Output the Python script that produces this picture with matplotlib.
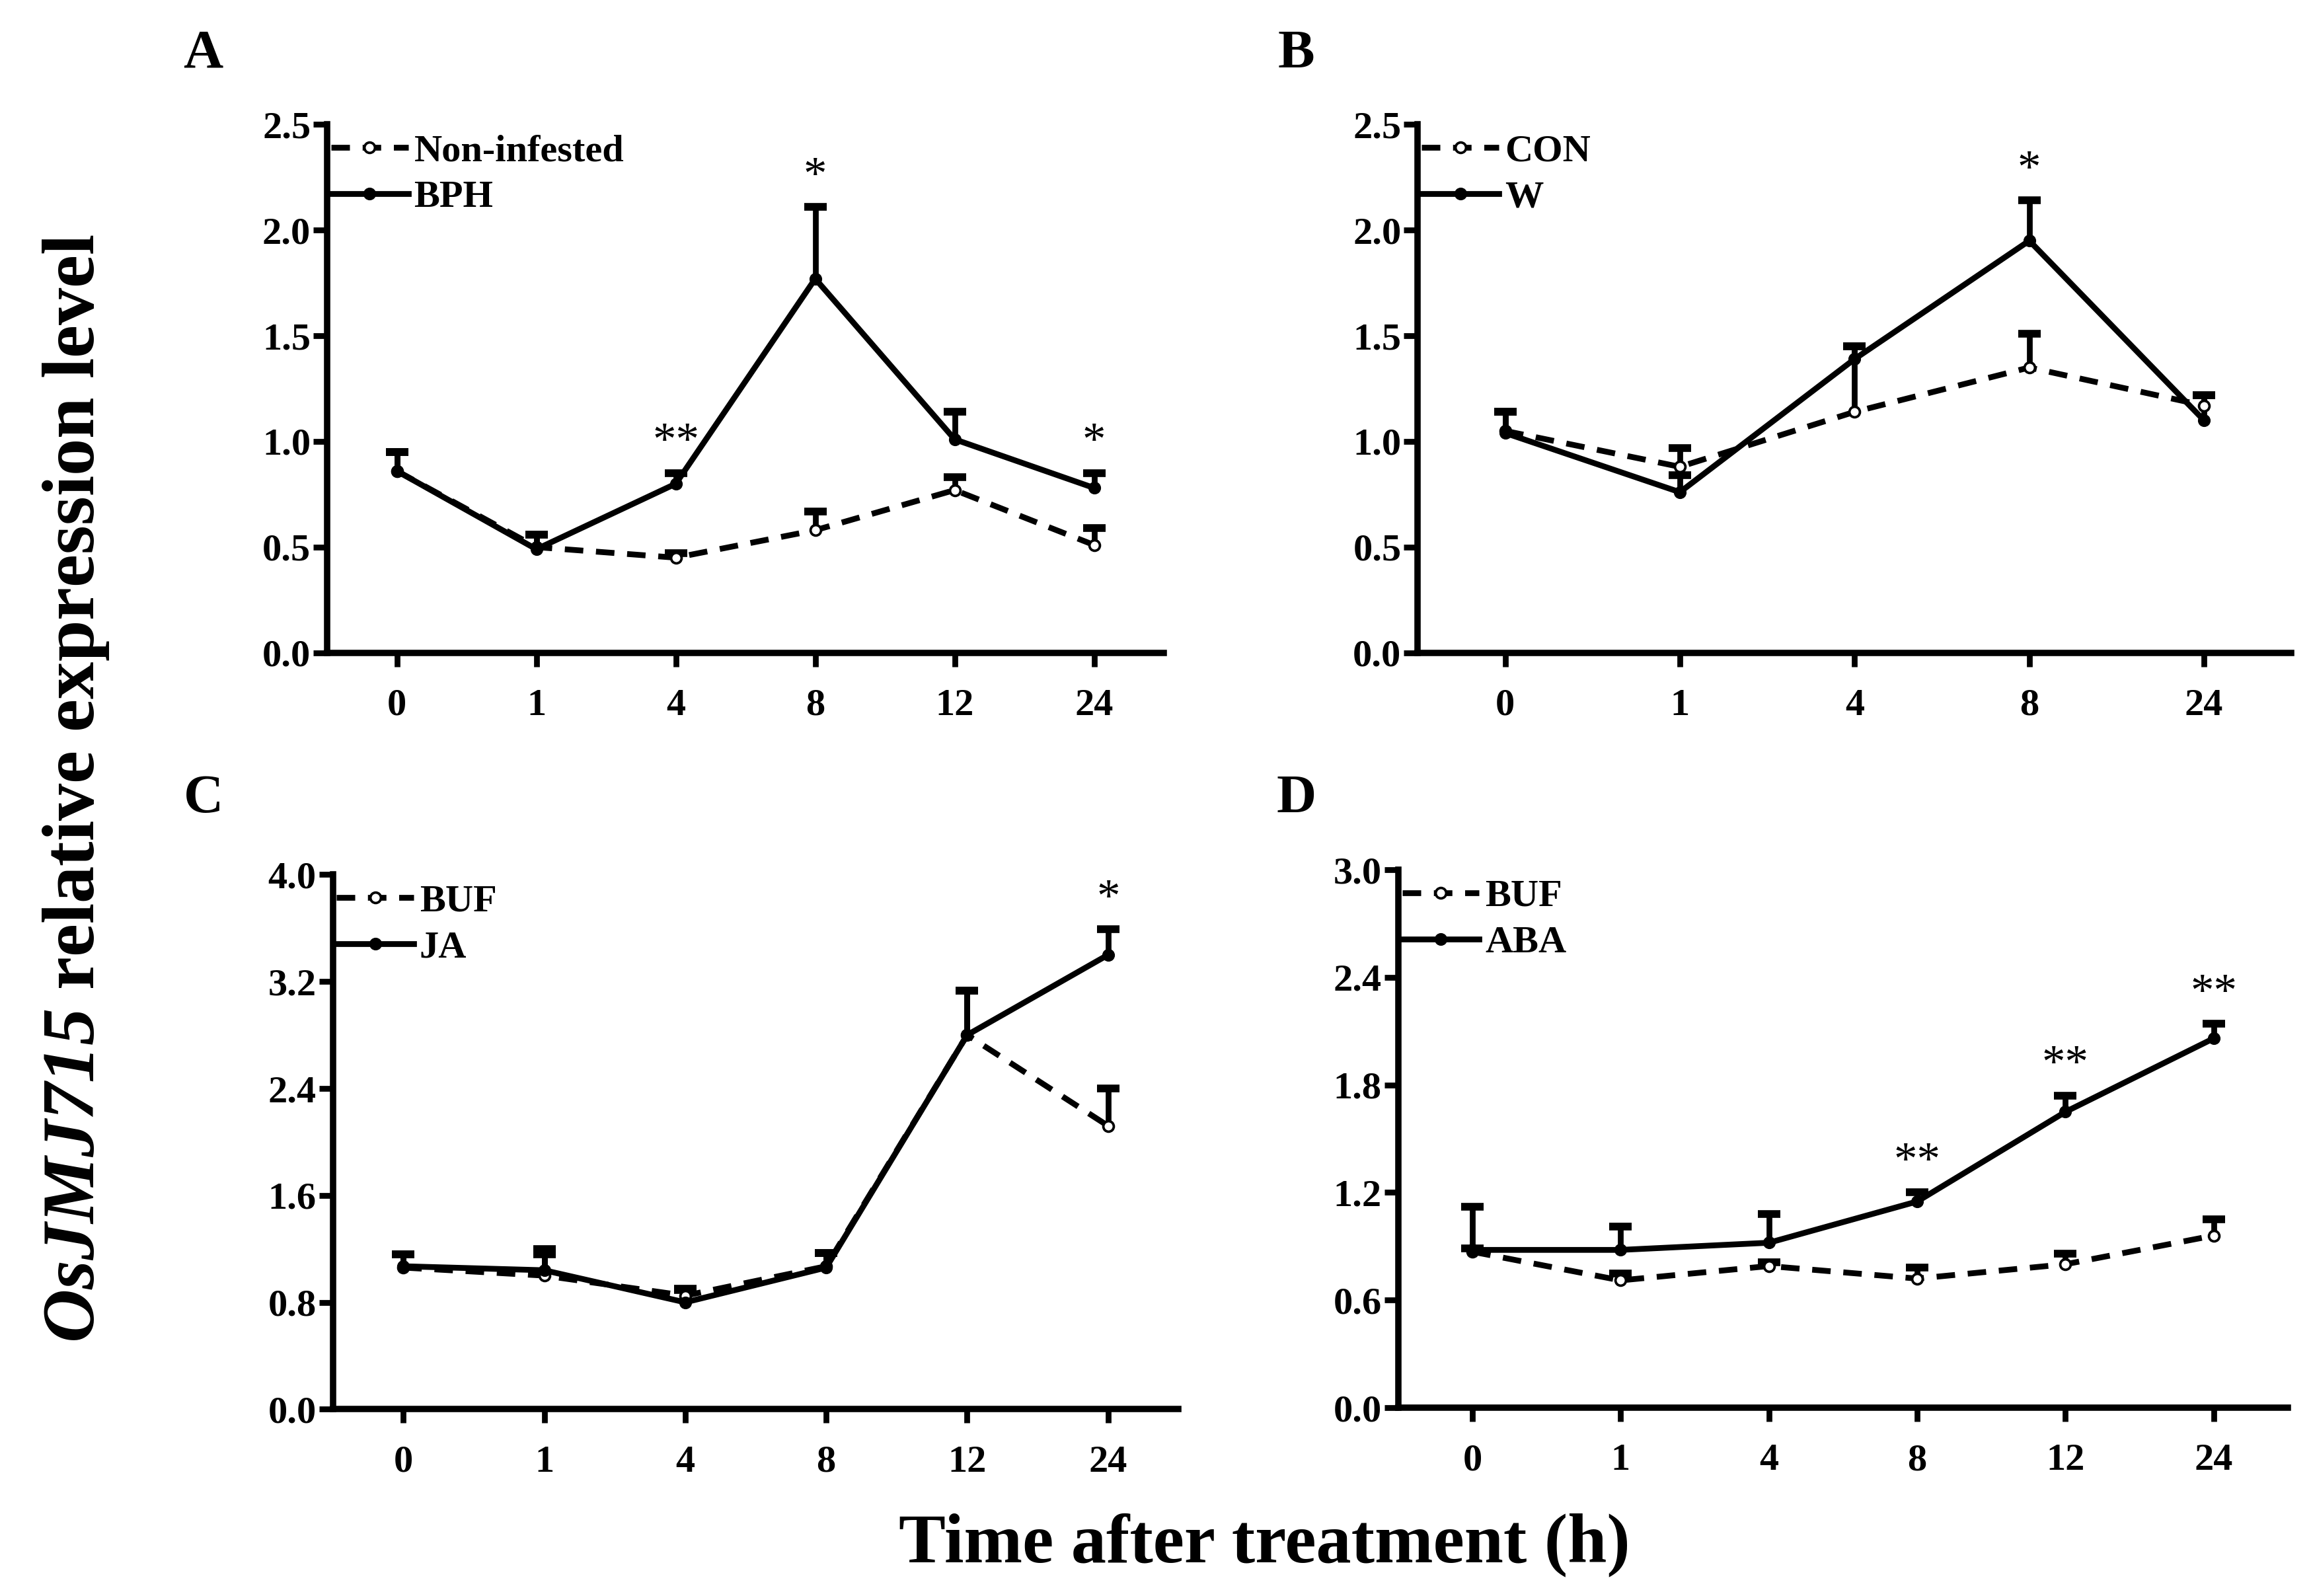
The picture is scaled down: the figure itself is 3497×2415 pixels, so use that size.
import matplotlib
matplotlib.use('Agg')
import matplotlib.pyplot as plt
import numpy as np

plt.rcParams['font.family'] = 'Liberation Serif'
plt.rcParams['font.weight'] = 'bold'
plt.rcParams['mathtext.fontset'] = 'custom'
plt.rcParams['mathtext.it'] = 'Liberation Serif:italic:bold'
plt.rcParams['mathtext.rm'] = 'Liberation Serif:italic:bold'

# ---- data ----
# A: BPH infestation
times_a = ['0', '1', '4', '8', '12', '24']
ctrl_a = [0.86, 0.50, 0.45, 0.58, 0.77, 0.51]
ctrl_a_err = [0.09, 0.06, 0.02, 0.09, 0.06, 0.08]
trt_a = [0.86, 0.49, 0.80, 1.77, 1.01, 0.78]
trt_a_err = [0.09, 0.07, 0.05, 0.34, 0.13, 0.07]
stars_a = ['', '', '**', '*', '', '*']
names_a = ['Non-infested', 'BPH']

# B: wounding
times_b = ['0', '1', '4', '8', '24']
ctrl_b = [1.05, 0.88, 1.14, 1.35, 1.17]
ctrl_b_err = [0.09, 0.09, 0.31, 0.16, 0.05]
trt_b = [1.04, 0.76, 1.39, 1.95, 1.10]
trt_b_err = [0.10, 0.08, 0.06, 0.19, 0.12]
stars_b = ['', '', '', '*', '']
names_b = ['CON', 'W']

# C: JA treatment
times_c = ['0', '1', '4', '8', '12', '24']
ctrl_c = [1.06, 1.00, 0.85, 1.07, 2.80, 2.12]
ctrl_c_err = [0.10, 0.16, 0.05, 0.10, 0.33, 0.28]
trt_c = [1.07, 1.04, 0.80, 1.06, 2.80, 3.40]
trt_c_err = [0.09, 0.16, 0.09, 0.11, 0.33, 0.19]
stars_c = ['', '', '', '', '', '*']
names_c = ['BUF', 'JA']

# D: ABA treatment
times_d = ['0', '1', '4', '8', '12', '24']
ctrl_d = [0.87, 0.71, 0.79, 0.72, 0.80, 0.96]
ctrl_d_err = [0.02, 0.04, 0.02, 0.06, 0.06, 0.09]
trt_d = [0.88, 0.88, 0.92, 1.15, 1.65, 2.06]
trt_d_err = [0.24, 0.13, 0.16, 0.05, 0.09, 0.08]
stars_d = ['', '', '', '**', '**', '**']
names_d = ['BUF', 'ABA']

yticks_ab = [0.0, 0.5, 1.0, 1.5, 2.0, 2.5]
yticks_c = [0.0, 0.8, 1.6, 2.4, 3.2, 4.0]
yticks_d = [0.0, 0.6, 1.2, 1.8, 2.4, 3.0]

LW = 2.1
TICK_FS = 14


def panel(ax, times, ctrl, ctrl_err, trt, trt_err, stars, names, yticks):
	x = np.arange(len(times))
	ctrl, ctrl_err = np.array(ctrl), np.array(ctrl_err)
	trt, trt_err = np.array(trt), np.array(trt_err)

	# upper-only error bars with a heavy cap
	for m, e in ((ctrl, ctrl_err), (trt, trt_err)):
		ax.vlines(x, m, m + e, color='black', lw=LW, zorder=2)
		ax.plot(x, m + e, ls='none', marker='_', ms=8, mew=2.8, color='black', zorder=2)

	ax.plot(x, ctrl, ls=(0, (3.2, 2.2)), lw=LW, color='black', marker='o', ms=3.8,
		mfc='white', mec='black', mew=0.9, label=names[0], zorder=3)
	ax.plot(x, trt, ls='-', lw=LW, color='black', marker='o', ms=3.6,
		mfc='black', mec='black', label=names[1], zorder=4)

	for i, s in enumerate(stars):
		if s:
			ax.annotate(s, (x[i], trt[i] + trt_err[i]), xytext=(0, 3), textcoords='offset points',
				ha='center', va='bottom', fontsize=17, fontweight='normal')

	ax.set_xlim(-0.5, len(times) - 0.5)
	ax.set_ylim(0, yticks[-1])
	ax.set_xticks(x)
	ax.set_xticklabels(times)
	ax.set_yticks(yticks)
	ax.set_yticklabels(['%.1f' % t for t in yticks])
	for sp in ['top', 'right']:
		ax.spines[sp].set_visible(False)
	for sp in ['left', 'bottom']:
		ax.spines[sp].set_linewidth(LW + 0.2)
	ax.tick_params(axis='both', direction='out', length=5, width=LW, labelsize=TICK_FS)
	ax.tick_params(axis='x', pad=8)
	ax.tick_params(axis='y', pad=1)
	ax.legend(loc='upper left', bbox_to_anchor=(0.0, 0.99), frameon=False, fontsize=TICK_FS,
		handlelength=2.0, handletextpad=0.15, borderaxespad=0.0, borderpad=0.1, labelspacing=0.3)


fig = plt.figure(figsize=(3497 / 300, 2415 / 300), dpi=300)

ax_a = fig.add_axes([0.1416, 0.591, 0.362, 0.331])
ax_b = fig.add_axes([0.6135, 0.591, 0.378, 0.331])
ax_c = fig.add_axes([0.144, 0.117, 0.366, 0.335])
ax_d = fig.add_axes([0.605, 0.118, 0.385, 0.337])

panel(ax_a, times_a, ctrl_a, ctrl_a_err, trt_a, trt_a_err, stars_a, names_a, yticks_ab)
panel(ax_b, times_b, ctrl_b, ctrl_b_err, trt_b, trt_b_err, stars_b, names_b, yticks_ab)
panel(ax_c, times_c, ctrl_c, ctrl_c_err, trt_c, trt_c_err, stars_c, names_c, yticks_c)
panel(ax_d, times_d, ctrl_d, ctrl_d_err, trt_d, trt_d_err, stars_d, names_d, yticks_d)

for lbl, xx, yy in (('A', 0.088, 0.966), ('B', 0.561, 0.966), ('C', 0.088, 0.499), ('D', 0.561, 0.499)):
	fig.text(xx, yy, lbl, fontsize=20, fontweight='bold', ha='center', va='center')

fig.text(0.033, 0.506, r'$\mathit{OsJMJ715}$ relative expression level', rotation=90,
	fontsize=27, fontweight='bold', ha='center', va='center')
fig.text(0.547, 0.032, 'Time after treatment (h)', fontsize=25.5, fontweight='bold',
	ha='center', va='center')

plt.savefig('out.png', dpi=300)
